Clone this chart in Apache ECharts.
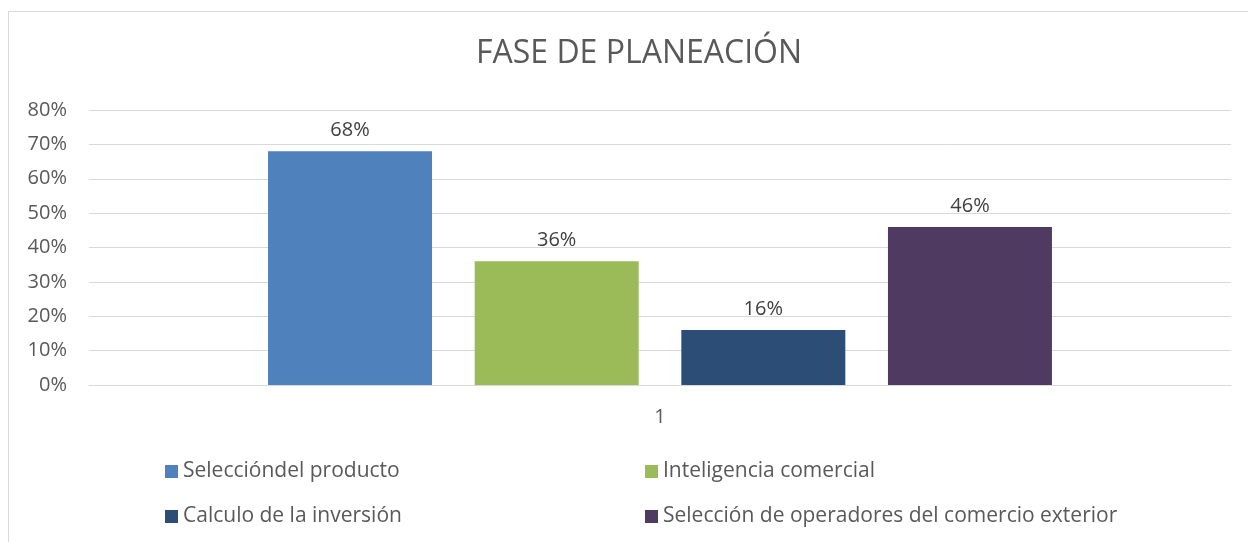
<!DOCTYPE html>
<html>
<head>
	<meta http-equiv="Content-Type" content="text/html; charset=UTF-8">
	<title>Fase de planeacion</title>
	<script src="https://cdn.jsdelivr.net/npm/echarts@6/dist/echarts.min.js"></script>
	<style>
		body { margin: 0; background: #fff; }
	</style>
</head>
<body>

	<div id="main" style="width: 1248px;height:542px;"></div>

	<script>
		var chartDom = document.getElementById('main');
		var myChart = echarts.init(chartDom);
		var option;

		// data
		const categories = ['1'];
		const seriesNames = [
			'Seleccióndel producto',
			'Inteligencia comercial',
			'Calculo de la inversión',
			'Selección de operadores del comercio exterior'
		];
		const seriesValues = [68, 36, 16, 46];
		const yTicks = [0, 10, 20, 30, 40, 50, 60, 70, 80];

		const colors = ['#4f81bd', '#9bbb59', '#2c4d75', '#4f3b62'];
		const fontName = '"Open Sans", "Liberation Sans", sans-serif';
		const textColor = '#595959';

		let series = [];
		for (let i = 0; i < seriesNames.length; i++) {
			series.push({
				name: seriesNames[i],
				type: 'bar',
				data: [seriesValues[i]],
				barWidth: 164,
				barGap: '26%',
				itemStyle: { color: colors[i] },
				label: {
					show: true,
					position: 'top',
					distance: 11,
					formatter: '{c}%',
					color: '#404040',
					fontSize: 20,
					fontFamily: fontName
				}
			});
		}

		option = {
			animation: false,
			color: colors,
			graphic: [
				{
					type: 'rect',
					silent: true,
					shape: { x: 8.5, y: 11.5, width: 1260, height: 560 },
					style: { fill: 'none', stroke: '#d9d9d9', lineWidth: 1 }
				}
			],
			title: {
				text: 'FASE DE PLANEACIÓN',
				left: 471,
				top: 33,
				textStyle: {
					color: textColor,
					fontSize: 32,
					fontWeight: 'normal',
					fontFamily: fontName
				}
			},
			legend: [
				{
					orient: 'vertical',
					left: 160,
					top: 456,
					itemGap: 24,
					itemWidth: 13,
					itemHeight: 13,
					icon: 'rect',
					data: [seriesNames[0], seriesNames[2]],
					textStyle: { color: textColor, fontSize: 21, fontFamily: fontName }
				},
				{
					orient: 'vertical',
					left: 640,
					top: 456,
					itemGap: 24,
					itemWidth: 13,
					itemHeight: 13,
					icon: 'rect',
					data: [seriesNames[1], seriesNames[3]],
					textStyle: { color: textColor, fontSize: 21, fontFamily: fontName }
				}
			],
			grid: {
				left: 89,
				right: 17,
				top: 110,
				bottom: 157
			},
			xAxis: {
				type: 'category',
				data: categories,
				axisLine: { show: true, lineStyle: { color: '#d9d9d9', width: 1 } },
				axisTick: { show: false },
				axisLabel: {
					color: textColor,
					fontSize: 20,
					margin: 22,
					fontFamily: fontName
				}
			},
			yAxis: {
				type: 'value',
				min: yTicks[0],
				max: yTicks[yTicks.length - 1],
				interval: 10,
				axisLine: { show: false },
				axisTick: { show: false },
				splitLine: { lineStyle: { color: '#d9d9d9', width: 1 } },
				axisLabel: {
					color: textColor,
					fontSize: 20,
					margin: 22,
					fontFamily: fontName,
					formatter: '{value}%'
				}
			},
			series: series
		};

		option && myChart.setOption(option);
	</script>

</body>
</html>
